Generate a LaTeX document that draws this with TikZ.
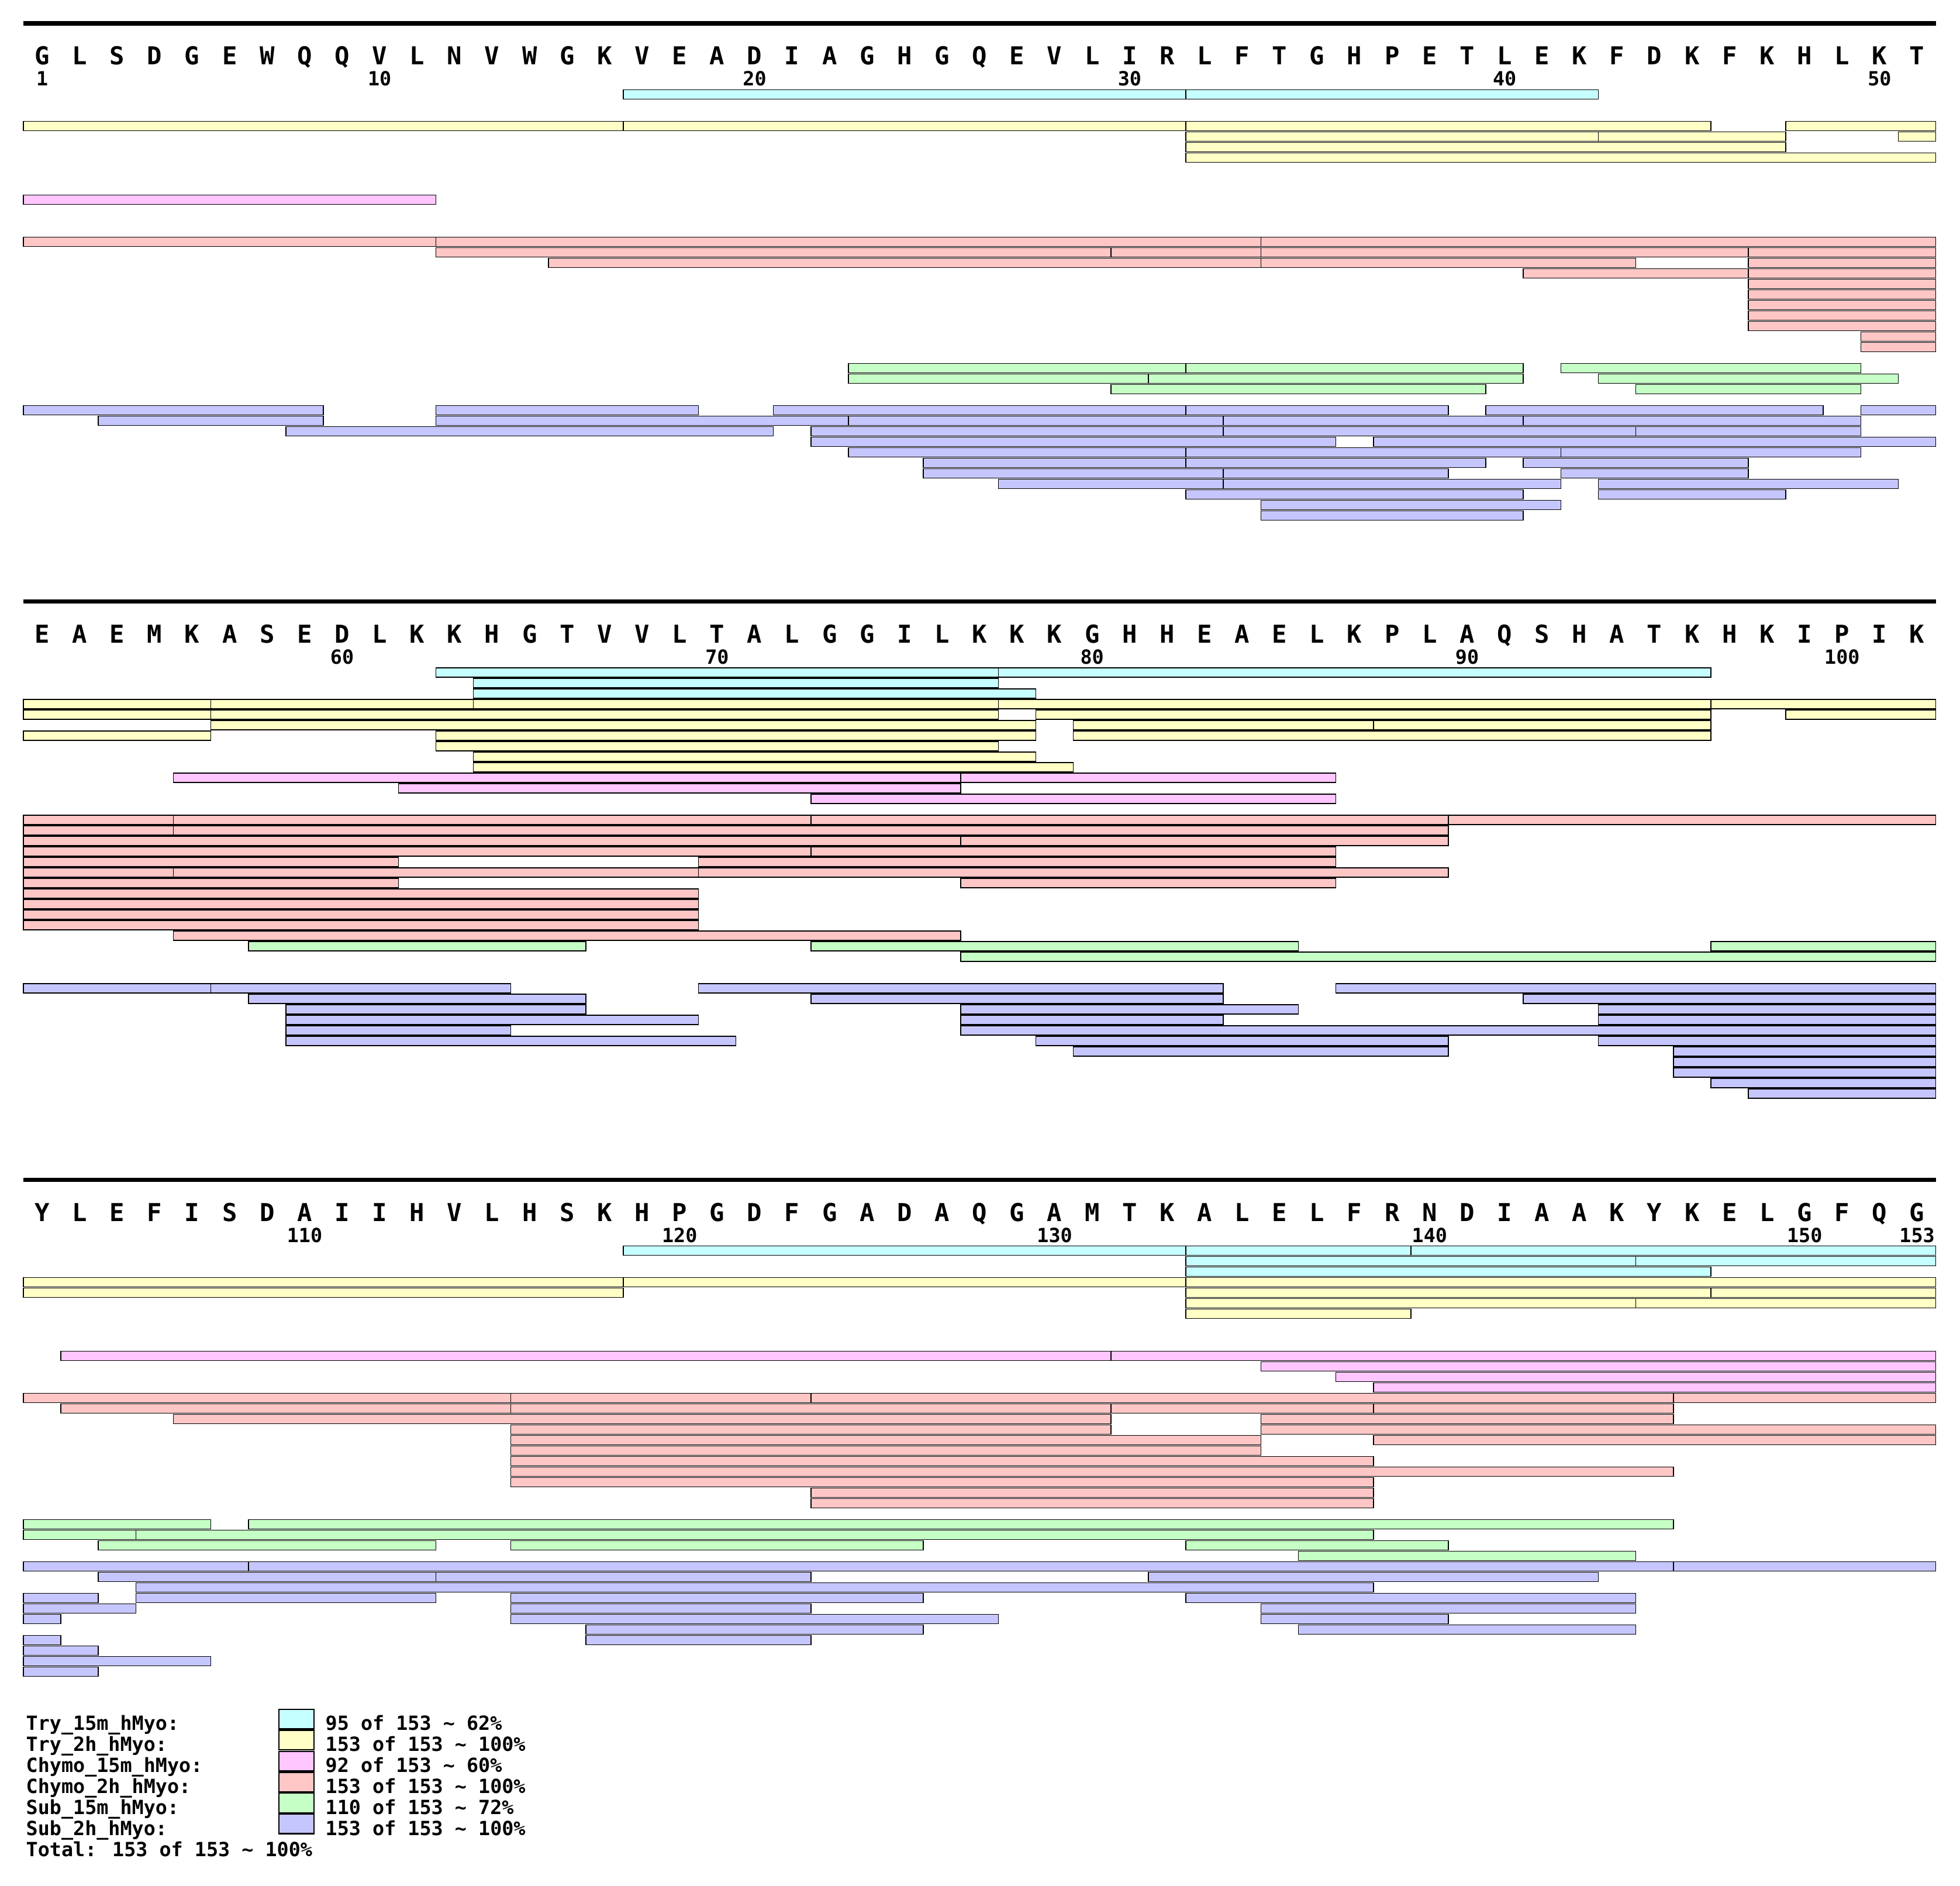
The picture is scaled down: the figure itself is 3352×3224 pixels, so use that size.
\documentclass[tikz,border=0pt]{standalone}
\usepackage{fontspec}
\newfontfamily\pepfont{DejaVu Sans Mono}
\definecolor{tryA}{RGB}{198,255,255}
\definecolor{tryB}{RGB}{255,255,198}
\definecolor{chyA}{RGB}{255,198,255}
\definecolor{chyB}{RGB}{255,198,198}
\definecolor{subA}{RGB}{198,255,198}
\definecolor{subB}{RGB}{198,198,255}
\begin{document}
\begin{tikzpicture}[x=0.01cm, y=-0.01cm,
		pep/.style={draw=black, line width=0.45pt},
		try15/.style={pep, fill=tryA},
		try2h/.style={pep, fill=tryB},
		chy15/.style={pep, fill=chyA},
		chy2h/.style={pep, fill=chyB},
		sub15/.style={pep, fill=subA},
		sub2h/.style={pep, fill=subB},
		res/.style={font=\pepfont\bfseries\fontsize{12pt}{12pt}\selectfont, anchor=base, inner sep=0pt},
		num/.style={font=\pepfont\bfseries\fontsize{9.5pt}{9.5pt}\selectfont, anchor=base, inner sep=0pt},
		leg/.style={font=\pepfont\bfseries\fontsize{9.5pt}{9.5pt}\selectfont, anchor=base west, inner sep=0pt}]
		\useasboundingbox (0,0) rectangle (3352,3224);
		
		%residues 1-51
		\begin{scope}
		\draw[line width=2pt] (40,40) -- (3311,40);
		\foreach \r [count=\n from 1] in {G,L,S,D,G,E,W,Q,Q,V,L,N,V,W,G,K,V,E,A,D,I,A,G,H,G,Q,E,V,L,I,R,L,F,T,G,H,P,E,T,L,E,K,F,D,K,F,K,H,L,K,T}{
			\node (r\n) at ({40+64.13*(\n-0.5)},111) [res]{\r};
		}
		\foreach \n in {1,10,20,30,40,50}
			\node (n\n) at ({40+64.13*(\n-0.5)},147) [num]{\n};
		
		\foreach \lane/\from/\upto in {0/16/31, 0/31/42}
			\draw[try15] ({40+64.13*\from},{153.3+18*\lane}) rectangle ({40+64.13*\upto},{169.3+18*\lane});
		\foreach \lane/\from/\upto in {3/0/16, 3/16/31, 3/31/45, 3/47/51, 4/31/42, 4/42/47, 4/50/51, 5/31/47, 6/31/51}
			\draw[try2h] ({40+64.13*\from},{153.3+18*\lane}) rectangle ({40+64.13*\upto},{169.3+18*\lane});
		\foreach \lane/\from/\upto in {10/0/11}
			\draw[chy15] ({40+64.13*\from},{153.3+18*\lane}) rectangle ({40+64.13*\upto},{169.3+18*\lane});
		\foreach \lane/\from/\upto in {14/0/11, 14/11/33, 14/33/51, 15/11/29, 15/29/33, 15/33/46, 15/46/51,
			16/14/33, 16/33/43, 16/46/51, 17/40/46, 17/46/51, 18/46/51, 19/46/51, 20/46/51, 21/46/51,
			22/46/51, 23/49/51, 24/49/51}
			\draw[chy2h] ({40+64.13*\from},{153.3+18*\lane}) rectangle ({40+64.13*\upto},{169.3+18*\lane});
		\foreach \lane/\from/\upto in {26/22/31, 26/31/40, 26/41/49, 27/22/30, 27/30/40, 27/42/50, 28/29/39, 28/43/49}
			\draw[sub15] ({40+64.13*\from},{153.3+18*\lane}) rectangle ({40+64.13*\upto},{169.3+18*\lane});
		\foreach \lane/\from/\upto in {30/0/8, 30/11/18, 30/20/31, 30/31/38, 30/39/48, 30/49/51,
			31/2/8, 31/11/22, 31/22/32, 31/32/40, 31/40/49, 32/7/20, 32/21/32, 32/32/43, 32/43/49,
			33/21/35, 33/36/51, 34/22/31, 34/31/41, 34/41/49, 35/24/31, 35/31/39, 35/40/46,
			36/24/32, 36/32/38, 36/41/46, 37/26/32, 37/32/41, 37/42/50, 38/31/40, 38/42/47,
			39/33/41, 40/33/40}
			\draw[sub2h] ({40+64.13*\from},{153.3+18*\lane}) rectangle ({40+64.13*\upto},{169.3+18*\lane});
		\end{scope}
		
		%residues 52-102
		\begin{scope}[yshift=-9.88cm]
		\draw[line width=2pt] (40,40) -- (3311,40);
		\foreach \r [count=\n from 52] in {E,A,E,M,K,A,S,E,D,L,K,K,H,G,T,V,V,L,T,A,L,G,G,I,L,K,K,K,G,H,H,E,A,E,L,K,P,L,A,Q,S,H,A,T,K,H,K,I,P,I,K}{
			\node (r\n) at ({40+64.13*(\n-51.5)},111) [res]{\r};
		}
		\foreach \n in {60,70,80,90,100}
			\node (n\n) at ({40+64.13*(\n-51.5)},147) [num]{\n};
		
		\foreach \lane/\from/\upto in {0/11/26, 0/26/45, 1/12/26, 2/12/27}
			\draw[try15] ({40+64.13*\from},{153.3+18*\lane}) rectangle ({40+64.13*\upto},{169.3+18*\lane});
		\foreach \lane/\from/\upto in {3/0/5, 3/5/12, 3/12/26, 3/26/45, 3/45/51, 4/0/5, 4/5/26, 4/27/45, 4/47/51,
			5/5/27, 5/28/36, 5/36/45, 6/0/5, 6/11/27, 6/28/45, 7/11/26, 8/12/27, 9/12/28}
			\draw[try2h] ({40+64.13*\from},{153.3+18*\lane}) rectangle ({40+64.13*\upto},{169.3+18*\lane});
		\foreach \lane/\from/\upto in {10/4/25, 10/25/35, 11/10/25, 12/21/35}
			\draw[chy15] ({40+64.13*\from},{153.3+18*\lane}) rectangle ({40+64.13*\upto},{169.3+18*\lane});
		\foreach \lane/\from/\upto in {14/0/4, 14/4/21, 14/21/38, 14/38/51, 15/0/4, 15/4/38, 16/0/25, 16/25/38,
			17/0/21, 17/21/35, 18/0/10, 18/18/35, 19/0/4, 19/4/18, 19/18/38, 20/0/10, 20/25/35,
			21/0/18, 22/0/18, 23/0/18, 24/0/18, 25/4/25}
			\draw[chy2h] ({40+64.13*\from},{153.3+18*\lane}) rectangle ({40+64.13*\upto},{169.3+18*\lane});
		\foreach \lane/\from/\upto in {26/6/15, 26/21/34, 26/45/51, 27/25/51}
			\draw[sub15] ({40+64.13*\from},{153.3+18*\lane}) rectangle ({40+64.13*\upto},{169.3+18*\lane});
		\foreach \lane/\from/\upto in {30/0/5, 30/5/13, 30/18/32, 30/35/51, 31/6/15, 31/21/32, 31/40/51,
			32/7/15, 32/25/34, 32/42/51, 33/7/18, 33/25/32, 33/42/51, 34/7/13, 34/25/51,
			35/7/19, 35/27/38, 35/42/51, 36/28/38, 36/44/51, 37/44/51, 38/44/51, 39/45/51, 40/46/51}
			\draw[sub2h] ({40+64.13*\from},{153.3+18*\lane}) rectangle ({40+64.13*\upto},{169.3+18*\lane});
		\end{scope}
		
		%residues 103-153
		\begin{scope}[yshift=-19.76cm]
		\draw[line width=2pt] (40,40) -- (3311,40);
		\foreach \r [count=\n from 103] in {Y,L,E,F,I,S,D,A,I,I,H,V,L,H,S,K,H,P,G,D,F,G,A,D,A,Q,G,A,M,T,K,A,L,E,L,F,R,N,D,I,A,A,K,Y,K,E,L,G,F,Q,G}{
			\node (r\n) at ({40+64.13*(\n-102.5)},111) [res]{\r};
		}
		\foreach \n in {110,120,130,140,150,153}
			\node (n\n) at ({40+64.13*(\n-102.5)},147) [num]{\n};
		
		\foreach \lane/\from/\upto in {0/16/31, 0/31/37, 0/37/51, 1/31/43, 1/43/51, 2/31/45}
			\draw[try15] ({40+64.13*\from},{153.3+18*\lane}) rectangle ({40+64.13*\upto},{169.3+18*\lane});
		\foreach \lane/\from/\upto in {3/0/16, 3/16/31, 3/31/51, 4/0/16, 4/31/45, 4/45/51, 5/31/43, 5/43/51, 6/31/37}
			\draw[try2h] ({40+64.13*\from},{153.3+18*\lane}) rectangle ({40+64.13*\upto},{169.3+18*\lane});
		\foreach \lane/\from/\upto in {10/1/29, 10/29/51, 11/33/51, 12/35/51, 13/36/51}
			\draw[chy15] ({40+64.13*\from},{153.3+18*\lane}) rectangle ({40+64.13*\upto},{169.3+18*\lane});
		\foreach \lane/\from/\upto in {14/0/13, 14/13/21, 14/21/44, 14/44/51, 15/1/13, 15/13/29, 15/29/36, 15/36/44,
			16/4/29, 16/33/44, 17/13/29, 17/33/51, 18/13/33, 18/36/51, 19/13/33, 20/13/36,
			21/13/44, 22/13/36, 23/21/36, 24/21/36}
			\draw[chy2h] ({40+64.13*\from},{153.3+18*\lane}) rectangle ({40+64.13*\upto},{169.3+18*\lane});
		\foreach \lane/\from/\upto in {26/0/5, 26/6/44, 27/0/3, 27/3/36, 28/2/11, 28/13/24, 28/31/38, 29/34/43}
			\draw[sub15] ({40+64.13*\from},{153.3+18*\lane}) rectangle ({40+64.13*\upto},{169.3+18*\lane});
		\foreach \lane/\from/\upto in {30/0/6, 30/6/44, 30/44/51, 31/2/11, 31/11/21, 31/30/42, 32/3/36,
			33/0/2, 33/3/11, 33/13/24, 33/31/43, 34/0/3, 34/13/21, 34/33/43,
			35/0/1, 35/13/26, 35/33/38, 36/15/24, 36/34/43, 37/0/1, 37/15/21, 38/0/2, 39/0/5, 40/0/2}
			\draw[sub2h] ({40+64.13*\from},{153.3+18*\lane}) rectangle ({40+64.13*\upto},{169.3+18*\lane});
		\end{scope}
		
		%legend
		\foreach \c/\lab/\cov [count=\i from 0] in {tryA/Try\_15m\_hMyo:/95 of 153 \textasciitilde{} 62\%,
			tryB/Try\_2h\_hMyo:/153 of 153 \textasciitilde{} 100\%,
			chyA/Chymo\_15m\_hMyo:/92 of 153 \textasciitilde{} 60\%,
			chyB/Chymo\_2h\_hMyo:/153 of 153 \textasciitilde{} 100\%,
			subA/Sub\_15m\_hMyo:/110 of 153 \textasciitilde{} 72\%,
			subB/Sub\_2h\_hMyo:/153 of 153 \textasciitilde{} 100\%}{
			\node (lab\i) at (44,{2958+36*\i}) [leg]{\lab};
			\draw[pep, line width=0.6pt, fill=\c] (477,{2923+35.8*\i}) rectangle (537,{2956.5+35.8*\i});
			\node (cov\i) at (556,{2958+36*\i}) [leg]{\cov};
		}
		\node (total) at (44,3174) [leg]{Total: 153 of 153 \textasciitilde{} 100\%};
\end{tikzpicture}
\end{document}
